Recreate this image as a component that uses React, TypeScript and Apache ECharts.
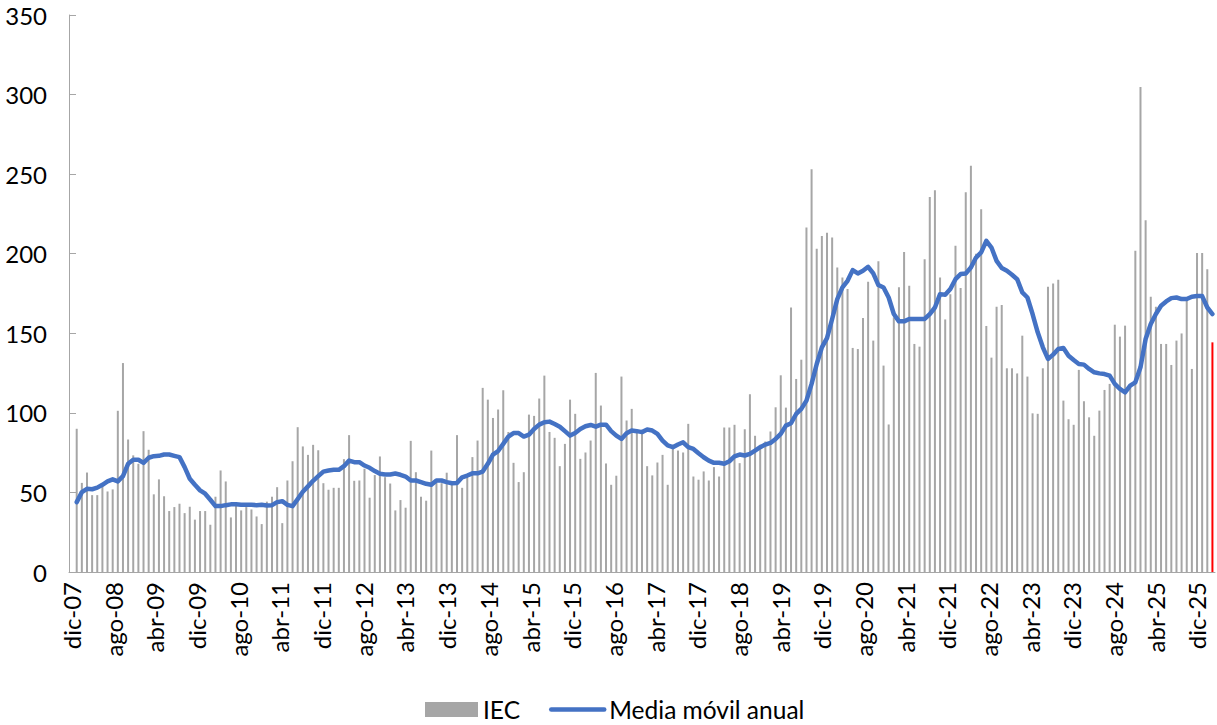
import React, { useEffect, useRef } from "react";
import * as echarts from "echarts";

const MONTHS = ["ene", "feb", "mar", "abr", "may", "jun", "jul", "ago", "sep", "oct", "nov", "dic"];
const N_CATEGORIES = 223; // dic-07 ... (first category has no data)
const N_LABEL_SLOTS = 220; // tick-label slots as spaced in the reference
const categories: string[] = [];
for (let i = 0; i < N_CATEGORIES; i++) {
  const m = (11 + i) % 12;
  const y = 2007 + Math.floor((11 + i) / 12);
  categories.push(MONTHS[m] + "-" + String(y % 100).padStart(2, "0"));
}

const iecValues: number[] = [
  90, 56, 62.5, 48.3, 48.3, 54, 50.6, 51.9, 101.3, 131.3, 83.3, 73.3, 68, 88.5, 76.8, 48.8, 58.2, 47.6,
  38.3, 40.8, 42.9, 37.0, 41.0, 32.9, 38.3, 38.3, 29.7, 47.3, 63.8, 56.9, 34.3, 43.9, 38.7, 40.8, 39.3, 34.9,
  30.1, 44.2, 47.3, 53.3, 30.7, 57.5, 69.6, 91.0, 78.9, 73.6, 79.9, 76.5, 55.8, 51.7, 52.9, 52.9, 70.9, 86.0, 57.3,
  57.5, 64.9, 46.7, 60.9, 72.6, 59.6, 55.6, 38.7, 45.2, 40.4, 82.4, 62.7, 47.3, 44.8, 76.3, 56.3, 55.8, 62.4,
  56.5, 86.0, 52.9, 60.6, 72.2, 82.6, 115.7, 108.3, 96.8, 102.1, 114.2, 88, 68.6, 56.5, 62.7, 98.9, 98.1, 109.0,
  123.4, 88, 84.3, 66.5, 80.5, 108.3, 99.4, 71.1, 75.1, 82.6, 125.1, 104.6, 68.2, 54.8, 60.5, 122.8, 95.2, 102.5,
  87.8, 86.8, 66.5, 60.7, 68.8, 73.6, 54.8, 78.4, 76.3, 75.1, 93.1, 60.0, 58.0, 63.2, 57.5, 65.9, 60.0, 90.8, 90.8,
  92.5, 68.4, 89.7, 111.7, 85.6, 80, 82, 88.3, 103.5, 123.6, 103.3, 166.2, 121.3, 133.4, 216.4, 253.1, 203.1, 211.2,
  213.1, 210.2, 191.3, 185, 177.8, 140.8, 140.1, 159.6, 182.4, 145.4, 195.3, 129.7, 92.7, 160, 179, 201, 179.9, 143.3,
  141.6, 196.6, 235.7, 239.9, 185.1, 158.7, 174.6, 205, 178.4, 238.6, 255.3, 200, 228, 154.6, 134.7, 166.7, 167.7, 128, 128,
  124.8, 148.5, 122.8, 99.7, 99.4, 128, 179.2, 181.3, 183.6, 107.7, 96, 92.5, 127, 107.3, 97.2, 85.6, 101.4, 114.4,
  118.2, 155.4, 147.9, 154.8, 116, 201.8, 304.7, 221.1, 173, 166.7, 143.3, 143.3, 130.1, 145.4, 149.9, 172, 127.6, 200.4, 200.4, 190.3,
];
const lastValue = 144.3; // highlighted in red

const mediaMovil: number[] = [
  43.9, 50.2, 52.3, 52, 53, 54.8, 56.9, 58.2, 56.9, 60.2, 68, 70.5, 70.5, 68.6, 71.8, 72.8, 73, 73.8,
  73.8, 73, 72.2, 65.9, 58.6, 54.8, 51.3, 49.2, 45.4, 41.4, 41.4, 42, 42.5, 42.5, 42.2, 42.2, 42.2, 42,
  42.2, 41.8, 42, 43.9, 44.5, 42.2, 41.4, 45.8, 50.4, 53.8, 57.3, 60.2, 63.1, 63.8, 64.2, 64.2, 66.5, 70, 69,
  69, 66.9, 65.5, 63.4, 61.7, 61.3, 61.3, 61.9, 61.1, 60, 57.5, 57.5, 56.5, 55.4, 54.8, 57.5, 57.5, 56.5,
  55.8, 56, 59.5, 60.6, 62, 62, 63.1, 68, 73.8, 76, 80.5, 85.1, 87.3, 87.3, 85.1, 86.3, 89.9, 92.6,
  94.1, 94.5, 93, 91.3, 88.5, 85.7, 87.4, 89.9, 91.6, 92.4, 91.3, 92.6, 92.6, 88.5, 85.7, 83.6, 87.2, 88.9,
  88.5, 87.9, 89.5, 88.9, 86.8, 82.6, 79.5, 78.4, 80.1, 81.5, 78.4, 77.3, 74.6, 72.1, 70, 68.6, 68.6, 68, 69.6,
  72.6, 73.8, 73.2, 74.2, 76.3, 78.4, 80.1, 81.1, 83.6, 86.8, 92, 93.5, 99.3, 102.5, 107.7, 118.2, 130.7, 141.1,
  147, 159, 171.5, 178.8, 183, 189.7, 187.6, 189.3, 191.8, 187.6, 180.3, 178.8, 172.5, 162.1, 157.5, 157.5, 159, 159,
  159, 159, 162.1, 166.2, 174.6, 174.2, 177.8, 184, 187.2, 187.6, 191.3, 197.6, 200.8, 208.1, 203.9, 195.5, 191, 189.3, 186.8,
  184, 175.7, 172.5, 162.1, 150.6, 141.2, 133.9, 136.6, 140.1, 140.7, 135.9, 133.2, 130.7, 130.3, 127.6, 125.5, 124.8, 124.4,
  123.4, 118.2, 115, 112.9, 117.1, 119.2, 128.6, 146.4, 155.8, 162.1, 167.3, 170, 172.1, 172.5, 171.5, 171.5, 173, 173.4, 173.4, 166.2, 162.1,
];

const yTicks = { min: 0, max: 350, interval: 50 };

const FONT = "Lato, 'Liberation Sans', sans-serif";

export default function App() {
  const ref = useRef<HTMLDivElement>(null);
  useEffect(() => {
    document.body.style.margin = "0";
    if (!ref.current) return;
    const chart = echarts.init(ref.current, undefined, { renderer: "svg" });
    const barData: any[] = [null, ...iecValues, { value: lastValue, itemStyle: { color: "#ff0000" } }];
    const lineData: any[] = [null, ...mediaMovil];
    chart.setOption({
      animation: false,
      textStyle: { fontFamily: FONT },
      grid: { left: 69, right: 2, top: 15, bottom: 153, containLabel: false },
      legend: {
        left: 425,
        top: 697,
        padding: 0,
        itemWidth: 53,
        itemHeight: 15,
        itemGap: 29,
        textStyle: { fontSize: 24.5, lineHeight: 24, color: "#000", fontFamily: FONT },
        data: [
          { name: "IEC", icon: "rect" },
          {
            name: "Media móvil anual",
            itemStyle: { opacity: 0 },
            lineStyle: { width: 4.5, color: "#4472c4", cap: "round" },
          },
        ],
      },
      xAxis: [
        {
          type: "category",
          data: categories,
          boundaryGap: true,
          axisLine: { lineStyle: { color: "#a6a6a6", width: 1 } },
          axisTick: { show: false },
          axisLabel: { show: false },
          splitLine: { show: false },
        },
        {
          type: "category",
          data: categories.slice(0, N_LABEL_SLOTS),
          boundaryGap: true,
          position: "bottom",
          axisLine: { show: false },
          axisTick: { show: false },
          axisLabel: {
            interval: 7,
            rotate: 90,
            fontSize: 24,
            color: "#000",
            margin: 10,
            fontFamily: FONT,
          },
          splitLine: { show: false },
        },
      ],
      yAxis: {
        type: "value",
        min: yTicks.min,
        max: yTicks.max,
        interval: yTicks.interval,
        axisLine: { show: true, lineStyle: { color: "#a6a6a6", width: 1 } },
        axisTick: { show: true, inside: true, length: 7, lineStyle: { color: "#a6a6a6" } },
        axisLabel: { fontSize: 24, color: "#000", margin: 22, fontFamily: FONT },
        splitLine: { show: false },
      },
      series: [
        {
          name: "IEC",
          type: "bar",
          xAxisIndex: 0,
          data: barData,
          barWidth: 2,
          itemStyle: { color: "#a6a6a6" },
        },
        {
          name: "Media móvil anual",
          type: "line",
          xAxisIndex: 0,
          data: lineData,
          symbol: "none",
          showSymbol: false,
          connectNulls: false,
          lineStyle: { color: "#4472c4", width: 4.5, cap: "round", join: "round" },
          itemStyle: { color: "#4472c4" },
        },
      ],
    });
    return () => chart.dispose();
  }, []);
  return <div ref={ref} style={{ width: 1217, height: 725 }} />;
}
